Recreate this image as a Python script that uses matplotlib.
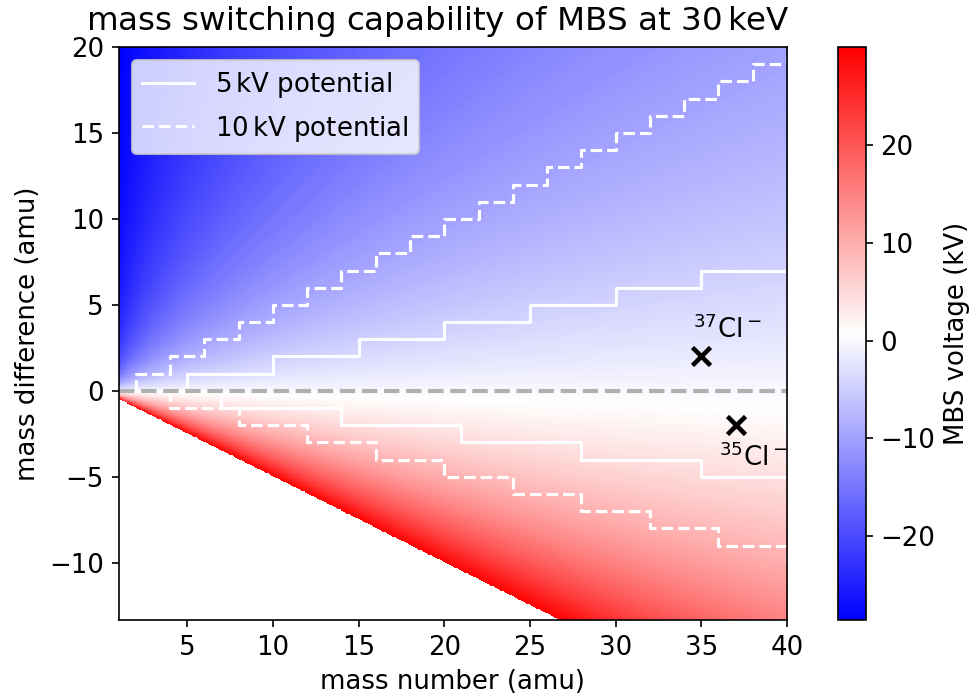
"""
Mass switching capability of the MBS at 30 keV beam energy.
"""

import numpy as np
import matplotlib
matplotlib.use("Agg")
import matplotlib.pyplot as plt

plt.rcParams["font.size"] = 12.5

# beam energy (keV) and plotted ranges
beam_energy = 30.0
mass_range = [1, 40]
dm_range = [-40 / 3, 20]

# integer mass numbers used for the step lines
masses = list(range(1, 41))

# largest mass difference reachable with the given MBS potential
upper_5kV = [0, 0, 0, 0, 1, 1, 1, 1, 1, 2, 2, 2, 2, 2, 3, 3, 3, 3, 3, 4,
             4, 4, 4, 4, 5, 5, 5, 5, 5, 6, 6, 6, 6, 6, 7, 7, 7, 7, 7, 8]
upper_10kV = [0, 1, 1, 2, 2, 3, 3, 4, 4, 5, 5, 6, 6, 7, 7, 8, 8, 9, 9, 10,
              10, 11, 11, 12, 12, 13, 13, 14, 14, 15, 15, 16, 16, 17, 17, 18, 18, 19, 19, 20]
lower_5kV = [0, 0, 0, 0, 0, 0, -1, -1, -1, -1, -1, -1, -1, -2, -2, -2, -2, -2, -2, -2,
             -3, -3, -3, -3, -3, -3, -3, -4, -4, -4, -4, -4, -4, -4, -5, -5, -5, -5, -5, -5]
lower_10kV = [0, 0, 0, -1, -1, -1, -1, -2, -2, -2, -2, -3, -3, -3, -3, -4, -4, -4, -4, -5,
              -5, -5, -5, -6, -6, -6, -6, -7, -7, -7, -7, -8, -8, -8, -8, -9, -9, -9, -9, -10]

# isotopes marked on the map: (mass number, mass difference, label)
isotope_m = [35, 37]
isotope_dm = [2, -2]
isotope_labels = [r"$^{37}$Cl$^-$", r"$^{35}$Cl$^-$"]


def mbs_voltage(m, dm, energy):
    """Voltage needed so mass m+dm passes like mass m at the given energy."""
    return energy * (m / (m + dm) - 1)


def plot_mbs_map():
    fig = plt.figure(figsize=(976 / 150, 699 / 150), dpi=150)
    ax = fig.add_axes([0.1215, 0.1130, 0.6849, 0.8197])
    cax = fig.add_axes([0.8586, 0.1130, 0.0287, 0.8197])

    m_grid = np.linspace(mass_range[0], mass_range[1], 800)
    dm_grid = np.linspace(dm_range[0], dm_range[1], 700)
    M, DM = np.meshgrid(m_grid, dm_grid)
    V = mbs_voltage(M, DM, beam_energy)
    V = np.ma.masked_where((V > beam_energy) | (M + DM <= 0), V)

    im = ax.imshow(V, origin="lower", cmap="bwr", aspect="auto", interpolation="nearest",
                   extent=[mass_range[0], mass_range[1], dm_range[0], dm_range[1]])

    ax.step(masses, upper_5kV, where="post", color="white", lw=1.5, label=r"5$\,$kV potential")
    ax.step(masses, upper_10kV, where="post", color="white", lw=1.5, ls="--", label=r"10$\,$kV potential")
    ax.step(masses, lower_5kV, where="post", color="white", lw=1.5)
    ax.step(masses, lower_10kV, where="post", color="white", lw=1.5, ls="--")

    ax.axhline(0, color="#b0b0b0", ls="--", lw=2)

    ax.plot(isotope_m, isotope_dm, "kx", ms=9, mew=2.2)
    ax.text(34.5, 3.05, isotope_labels[0], ha="left", va="baseline")
    ax.text(36.05, -4.35, isotope_labels[1], ha="left", va="baseline")

    ax.set_xlim(mass_range)
    ax.set_ylim(dm_range)
    ax.set_xticks([5, 10, 15, 20, 25, 30, 35, 40])
    ax.set_yticks([-10, -5, 0, 5, 10, 15, 20])
    ax.set_xlabel("mass number (amu)")
    ax.set_ylabel("mass difference (amu)")
    ax.set_title(r"mass switching capability of MBS at 30$\,$keV", fontsize=15.6, x=0.478, pad=8)
    ax.legend(loc="upper left")

    cbar = fig.colorbar(im, cax=cax)
    cbar.set_ticks([-20, -10, 0, 10, 20])
    cbar.set_label("MBS voltage (kV)")

    fig.savefig("out.png", dpi=150)
    plt.close(fig)


if __name__ == "__main__":
    plot_mbs_map()
